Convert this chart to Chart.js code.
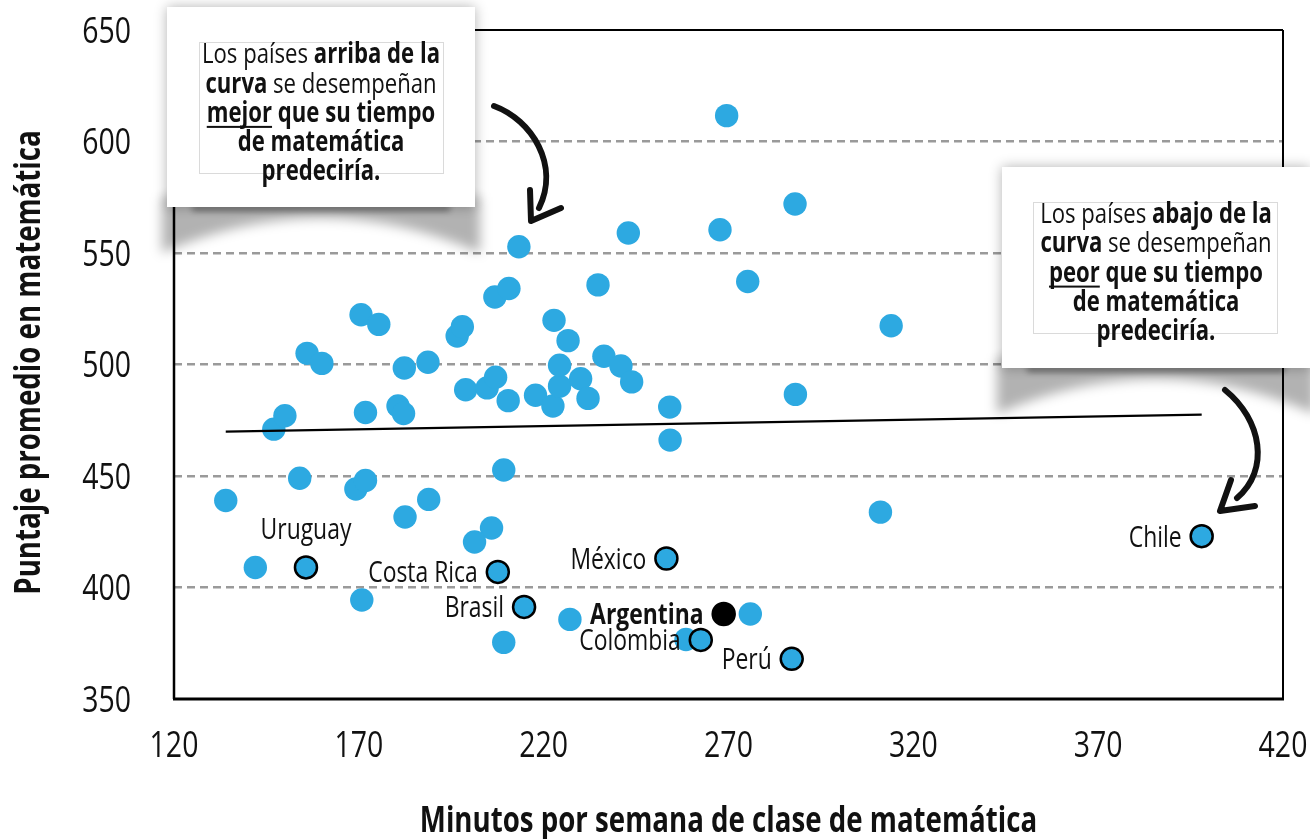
<!DOCTYPE html>
<html><head><meta charset="utf-8">
<script src="https://cdn.jsdelivr.net/npm/chart.js@4.4.1/dist/chart.umd.min.js"></script>
<style>html,body{margin:0;padding:0;background:#fff;}#wrap{width:1310px;height:839px;position:relative;}</style>
</head><body><div id="wrap"><canvas id="c" width="1310" height="839"></canvas></div>
<script>
// ---------- data ----------
const otherMinutes = [134,142,147,150,154,156,160,170.6,175.4,171.8,169.2,171.8,170.8,180.6,182.1,182.3,182.5,188.7,188.9,196.6,198,198.9,204.7,207,206.8,210.6,213.3,210.4,217.8,222.5,224.3,224.3,222.8,226.6,230,232,234.7,236.3,240.9,243.8,242.9,254.1,254.2,267.7,275.2,288,288.1,269.5,314,311.1,209.2,205.9,201.3,227.1,209.2,275.9,258.5];
const otherScores  = [439,409,471,477,449,505,500.5,522.3,518,478.5,444.2,448,394.4,481.4,478,498.4,431.6,501,439.5,512.8,516.9,488.7,489.5,494.3,530.3,534.1,552.8,483.8,486.2,481.4,490.3,499.7,519.8,510.7,493.6,484.8,535.7,503.7,499.3,492.2,559,480.9,466.1,560.4,537.2,572,486.6,611.6,517.4,433.8,452.7,426.7,420.4,385.7,375.4,388.1,376.7];
const highlightNames   = ['Uruguay','Costa Rica','México','Brasil','Colombia','Perú','Chile'];
const highlightMinutes = [155.7,207.6,253.2,214.7,262.5,287.1,398];
const highlightScores  = [409,407,413,391.3,376.5,368,423];
const argentinaName    = ['Argentina'];
const argentinaMinutes = [268.7];
const argentinaScores  = [388.1];
const trendMinutes = [134,398];
const trendScores  = [469.9,477.5];
const xTickValues = [120,170,220,270,320,370,420];
const yTickValues = [350,400,450,500,550,600,650];
const xTitle = 'Minutos por semana de clase de matemática';
const yTitle = 'Puntaje promedio en matemática';
// callout text: [text, bold, underline]
const calloutAbove = [
  [['Los países ',0,0],['arriba de la',1,0]],
  [['curva',1,0],[' se desempeñan',0,0]],
  [['mejor',1,1],[' que su tiempo',1,0]],
  [['de matemática',1,0]],
  [['predeciría.',1,0]]
];
const calloutBelow = [
  [['Los países ',0,0],['abajo de la',1,0]],
  [['curva',1,0],[' se desempeñan',0,0]],
  [['peor',1,1],[' que su tiempo',1,0]],
  [['de matemática',1,0]],
  [['predeciría.',1,0]]
];

const FAM = '"Open Sans","Noto Sans",sans-serif';
const SX = 0.79;      // horizontal condensing of all text
const CAP = 0.714;    // cap height ratio
const BLUE = '#2DA9E1';

function fnt(size, bold) { return (bold ? 'bold ' : '') + size + 'px ' + FAM; }
function txt(ctx, s, x, y, size, bold, align, rot) {
  ctx.save();
  ctx.translate(x, y);
  if (rot) ctx.rotate(rot);
  ctx.scale(SX, 1);
  ctx.font = fnt(size, bold);
  ctx.fillStyle = '#111';
  ctx.textAlign = align || 'left';
  ctx.textBaseline = 'alphabetic';
  ctx.fillText(s, 0, 0);
  ctx.restore();
}

function drawRich(ctx, lines, cx, y0, step, size) {
  lines.forEach((segs, li) => {
    const base = y0 + li*step + size*CAP/2;
    let total = 0;
    const w = segs.map(s => { ctx.font = fnt(size, s[1]); const m = ctx.measureText(s[0]).width*SX; total += m; return m; });
    let x = cx - total/2;
    segs.forEach((s, i) => {
      txt(ctx, s[0], x, base, size, s[1], 'left');
      if (s[2]) { ctx.fillStyle = '#111'; ctx.fillRect(x, base + 4, w[i], 2); }
      x += w[i];
    });
  });
}

function drawCallout(ctx, b, lines) {
  const yb = b.y + b.h, x0 = b.x, x1 = b.x + b.w, xm = b.x + b.w/2;
  // curled-paper shadow under the card
  ctx.save();
  ctx.filter = 'blur(6px)';
  ctx.fillStyle = 'rgba(0,0,0,0.3)';
  ctx.beginPath();
  ctx.moveTo(x0-5, yb-10);
  ctx.lineTo(x1+5, yb-10);
  ctx.lineTo(x1+5, yb+46);
  ctx.quadraticCurveTo(xm, yb-24, x0-5, yb+46);
  ctx.closePath(); ctx.fill();
  ctx.restore();
  ctx.save();
  ctx.filter = 'blur(3px)';
  ctx.fillStyle = 'rgba(0,0,0,0.4)';
  ctx.fillRect(x0+25, yb-2, b.w-50, 6);
  ctx.restore();
  // card
  ctx.save();
  ctx.shadowColor = 'rgba(0,0,0,0.3)'; ctx.shadowBlur = 12;
  ctx.fillStyle = '#fff'; ctx.fillRect(b.x, b.y, b.w, b.h);
  ctx.restore();
  ctx.save();
  ctx.strokeStyle = '#dadada'; ctx.lineWidth = 1;
  ctx.strokeRect(b.ix+0.5, b.iy+0.5, b.iw, b.ih);
  drawRich(ctx, lines, b.x + b.w/2, b.ty, 29.3, 28);
  ctx.restore();
}

function drawArrow(ctx, p) {
  ctx.save();
  ctx.strokeStyle = '#111'; ctx.lineCap = 'round'; ctx.lineJoin = 'round';
  ctx.lineWidth = 6;
  ctx.beginPath(); ctx.moveTo(p[0],p[1]); ctx.bezierCurveTo(p[2],p[3],p[4],p[5],p[6],p[7]); ctx.stroke();
  ctx.lineWidth = 6;
  ctx.beginPath(); ctx.moveTo(p[8],p[9]); ctx.lineTo(p[10],p[11]); ctx.lineTo(p[12],p[13]); ctx.stroke();
  ctx.restore();
}

const decor = {
  id: 'decor',
  afterDatasetsDraw(chart) {
    const ctx = chart.ctx;
    const LS = 29;
    const m = chart.getDatasetMeta(2);
    m.data.forEach((el, i) => {
      const name = highlightNames[i];
      if (name === 'Uruguay') txt(ctx, name, el.x, el.y - 39 + LS*CAP/2, LS, false, 'center');
      else txt(ctx, name, el.x - 20, el.y + LS*CAP/2, LS, false, 'right');
    });
    const a = chart.getDatasetMeta(1).data[0];
    txt(ctx, argentinaName[0], a.x - 20, a.y + LS*CAP/2, LS, true, 'right');
  },
  afterDraw(chart) {
    const ctx = chart.ctx, ca = chart.chartArea;
    const xs = chart.scales.x, ys = chart.scales.y;
    const TS = 36;
    // tick labels
    ys.ticks.forEach(t => txt(ctx, String(t.value), 131, ys.getPixelForValue(t.value) + TS*CAP/2, TS, false, 'right'));
    xs.ticks.forEach(t => txt(ctx, String(t.value), xs.getPixelForValue(t.value), 744.5 + TS*CAP/2, TS, false, 'center'));
    // axis titles
    txt(ctx, xTitle, (ca.left + ca.right)/2, 831.5, 35, true, 'center');
    txt(ctx, yTitle, 40, (ca.top + ca.bottom)/2 - 2, 35, true, 'center', -Math.PI/2);
    // frame
    ctx.save();
    ctx.strokeStyle = '#000';
    ctx.lineWidth = 2; ctx.beginPath(); ctx.moveTo(ca.left, ca.top); ctx.lineTo(ca.right, ca.top); ctx.stroke();
    ctx.beginPath(); ctx.moveTo(ca.right, ca.top); ctx.lineTo(ca.right, ca.bottom); ctx.stroke();
    ctx.lineWidth = 2.5; ctx.beginPath(); ctx.moveTo(ca.left, ca.top); ctx.lineTo(ca.left, ca.bottom); ctx.stroke();
    ctx.lineWidth = 3; ctx.beginPath(); ctx.moveTo(ca.left-1, ca.bottom); ctx.lineTo(ca.right+1, ca.bottom); ctx.stroke();
    ctx.restore();
    drawCallout(ctx, {x:167,y:7,w:308,h:200, ix:199,iy:42,iw:244,ih:131, ty:53.3}, calloutAbove);
    drawCallout(ctx, {x:1002,y:167,w:308,h:201, ix:1033,iy:202,iw:244,ih:131, ty:213}, calloutBelow);
    drawArrow(ctx, [494,106, 532,120, 560,165, 539,208, 530,190, 531,221, 561,208]);
    drawArrow(ctx, [1225,390, 1262,420, 1270,470, 1237,498, 1231,480, 1220,511, 1255,506]);
  }
};

const pts = (xs, ys) => xs.map((x, i) => ({x, y: ys[i]}));

new Chart(document.getElementById('c'), {
  type: 'scatter',
  data: { datasets: [
    { type:'line', label:'Tendencia', data: pts(trendMinutes, trendScores), borderColor:'#000', borderWidth:2.4, pointRadius:0, showLine:true, fill:false },
    { label:'Argentina', data: pts(argentinaMinutes, argentinaScores), backgroundColor:'#000', borderColor:'#000', borderWidth:2.5, pointRadius:11 },
    { label:'Destacados', data: pts(highlightMinutes, highlightScores), backgroundColor:BLUE, borderColor:'#000', borderWidth:2.5, pointRadius:11 },
    { label:'Países', data: pts(otherMinutes, otherScores), backgroundColor:BLUE, borderWidth:0, pointRadius:11.7 }
  ]},
  options: {
    responsive:false, animation:false, devicePixelRatio:1,
    layout: { padding: { top:30, right:27, left:0, bottom:0 } },
    plugins: { legend:{display:false}, tooltip:{enabled:false} },
    scales: {
      x: {
        type:'linear', min:120, max:420,
        afterBuildTicks: s => { s.ticks = xTickValues.map(v => ({value:v})); },
        afterFit: s => { s.height = 140; s.paddingLeft = 0; s.paddingRight = 0; },
        grid: { display:false, drawTicks:false },
        border: { display:false },
        ticks: { display:false }
      },
      y: {
        type:'linear', min:350, max:650,
        afterBuildTicks: s => { s.ticks = yTickValues.map(v => ({value:v})); },
        afterFit: s => { s.width = 174; s.paddingTop = 0; s.paddingBottom = 0; },
        grid: { drawTicks:false, lineWidth:2.5, color: c => (c.tick && (c.tick.value === 350 || c.tick.value === 650)) ? 'rgba(0,0,0,0)' : '#9a9a9a' },
        border: { display:false, dash:[8,5] },
        ticks: { display:false }
      }
    }
  },
  plugins: [decor]
});
</script></body></html>
